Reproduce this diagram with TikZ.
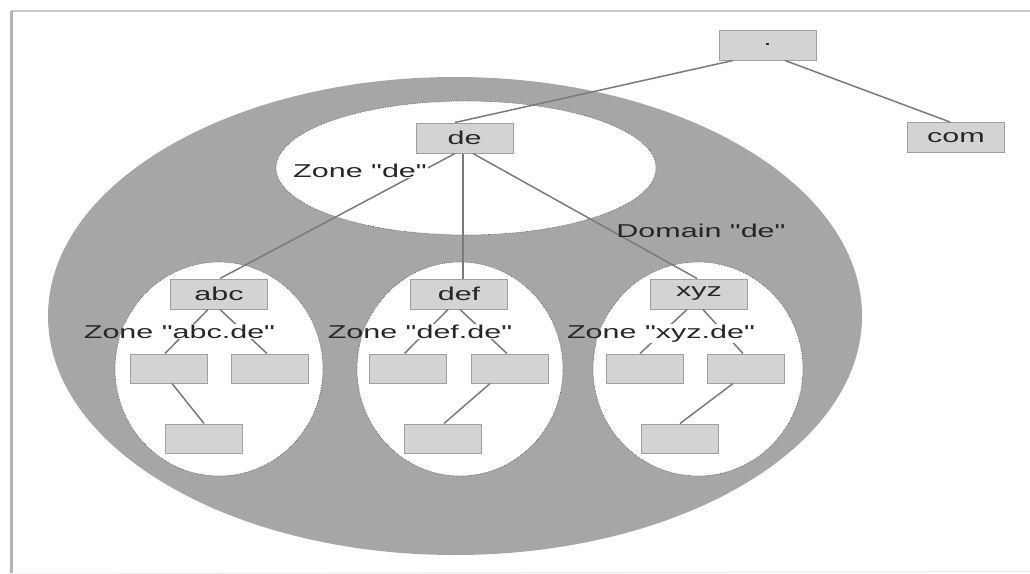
\documentclass[tikz,border=0pt]{standalone}
\usepackage{fontspec}
\setmainfont{Liberation Sans}[Ligatures=TeXOff]
\definecolor{biggray}{HTML}{A6A6A6}
\definecolor{boxfill}{HTML}{D3D3D3}
\definecolor{boxline}{HTML}{A0A0A0}
\definecolor{conncol}{HTML}{7A7A7A}
\definecolor{txtcol}{HTML}{262626}
\definecolor{framecol}{HTML}{B4B4B4}
\newcommand\wtxt[1]{\scalebox{1.64}[1]{#1}}
\newcommand\qq{\symbol{34}}
\tikzset{
  box/.style={draw=boxline, fill=boxfill, line width=1pt, minimum width=97pt, minimum height=30pt, inner sep=0pt, text=txtcol, font=\fontsize{18.6}{20}\selectfont},
  cbox/.style={draw=boxline, fill=boxfill, line width=1pt, minimum width=77pt, minimum height=29pt, inner sep=0pt},
  conn/.style={draw=conncol, line width=1.5pt},
  lbl/.style={text=txtcol, inner sep=1pt, font=\fontsize{18.6}{20}\selectfont, anchor=base},
  lblbg/.style={lbl, fill=white, text=white},
  zone/.style={fill=white, draw=black!65, densely dotted, line width=0.7pt}
}
\begin{document}
\begin{tikzpicture}[x=1pt,y=-1pt]
\useasboundingbox (0,0) rectangle (1030,573);
\fill[white] (0,0) rectangle (1030,573);
% frame
\coordinate (ftl) at (11,10.5);
\coordinate (ftr) at (1030,10.5);
\coordinate (fbl) at (11,573);
\coordinate (fbr) at (1030,571.5);
\draw[framecol!70, line width=2pt] (ftl) -- (ftr);
\draw[framecol, line width=3pt] (ftl) -- (fbl);
\draw[framecol!30, line width=1pt] ([yshift=-1pt]fbl) -- (fbr);
% domain ellipse
\fill[biggray] (455,316) ellipse [x radius=407pt, y radius=239pt];
% zones
\filldraw[zone] (466,168) ellipse [x radius=190pt, y radius=67pt];
\filldraw[zone] (219,369) ellipse [x radius=104pt, y radius=107pt];
\filldraw[zone] (460,369) ellipse [x radius=103pt, y radius=107pt];
\filldraw[zone] (698,369) ellipse [x radius=105pt, y radius=107pt];
% boxes
\node[box] (root) at (767.5,45) {\wtxt{.}};
\node[box] (com) at (956,137.5) {\wtxt{com}};
\node[box] (de) at (464.5,138) {\wtxt{de}};
\node[box] (abc) at (219,294) {\wtxt{abc}};
\node[box] (def) at (459,294) {\wtxt{def}};
\node[box] (xyz) at (699,294) {\wtxt{xyz}};
\node[cbox] (a1) at (168.5,368.5) {};
\node[cbox] (a2) at (270,368.5) {};
\node[cbox] (a3) at (203.5,438.5) {};
\node[cbox] (d1) at (408,368.5) {};
\node[cbox] (d2) at (510,368.5) {};
\node[cbox] (d3) at (443,438.5) {};
\node[cbox] (x1) at (645,368.5) {};
\node[cbox] (x2) at (746,368.5) {};
\node[cbox] (x3) at (680,438.5) {};
% connectors
\draw[conn] ([xshift=-34.5pt]root.south) -- ([xshift=-9.5pt]de.north);
\draw[conn] ([xshift=17.5pt]root.south) -- ([xshift=-6pt]com.north);
\draw[conn] ([xshift=-9.5pt]de.south) -- ([xshift=1pt]abc.north);
\draw[conn] ([xshift=-1.5pt]de.south) -- ([xshift=4pt]def.north);
\draw[conn] ([xshift=8.5pt]de.south) -- ([xshift=-2pt]xyz.north);
\draw[conn] ([xshift=-11pt]abc.south) -- ([xshift=-3.5pt]a1.north);
\draw[conn] ([xshift=1pt]abc.south) -- ([xshift=-3pt]a2.north);
\draw[conn] ([xshift=3.5pt]a1.south) -- ([xshift=0.5pt]a3.north);
\draw[conn] ([xshift=-11pt]def.south) -- ([xshift=-3.5pt]d1.north);
\draw[conn] ([xshift=1pt]def.south) -- ([xshift=-3pt]d2.north);
\draw[conn] ([xshift=-20pt]d2.south) -- ([xshift=1pt]d3.north);
\draw[conn] ([xshift=-12pt]xyz.south) -- ([xshift=-5pt]x1.north);
\draw[conn] ([xshift=4pt]xyz.south) -- ([xshift=-3pt]x2.north);
\draw[conn] ([xshift=-13pt]x2.south) -- ([xshift=0pt]x3.north);
% label backgrounds (white only inside the zones)
\begin{scope}
\clip (466,168) ellipse [x radius=190pt, y radius=67pt];
\node[lblbg] (zdebg) at (360,177) {\wtxt{Zone \qq de\qq}};
\end{scope}
\begin{scope}
\clip (219,369) ellipse [x radius=104pt, y radius=107pt];
\node[lblbg] (zabcbg) at (179.5,338) {\wtxt{Zone \qq abc.de\qq}};
\end{scope}
\begin{scope}
\clip (460,369) ellipse [x radius=103pt, y radius=107pt];
\node[lblbg] (zdefbg) at (420,338) {\wtxt{Zone \qq def.de\qq}};
\end{scope}
\begin{scope}
\clip (698,369) ellipse [x radius=105pt, y radius=107pt];
\node[lblbg] (zxyzbg) at (661,338) {\wtxt{Zone \qq xyz.de\qq}};
\end{scope}
% labels
\node[lbl] (zde) at (360,177) {\wtxt{Zone \qq de\qq}};
\node[lbl] (zabc) at (179.5,338) {\wtxt{Zone \qq abc.de\qq}};
\node[lbl] (zdef) at (420,338) {\wtxt{Zone \qq def.de\qq}};
\node[lbl] (zxyz) at (661,338) {\wtxt{Zone \qq xyz.de\qq}};
\node[lbl] (dom) at (701,237) {\wtxt{Domain \qq de\qq}};
\end{tikzpicture}
\end{document}
